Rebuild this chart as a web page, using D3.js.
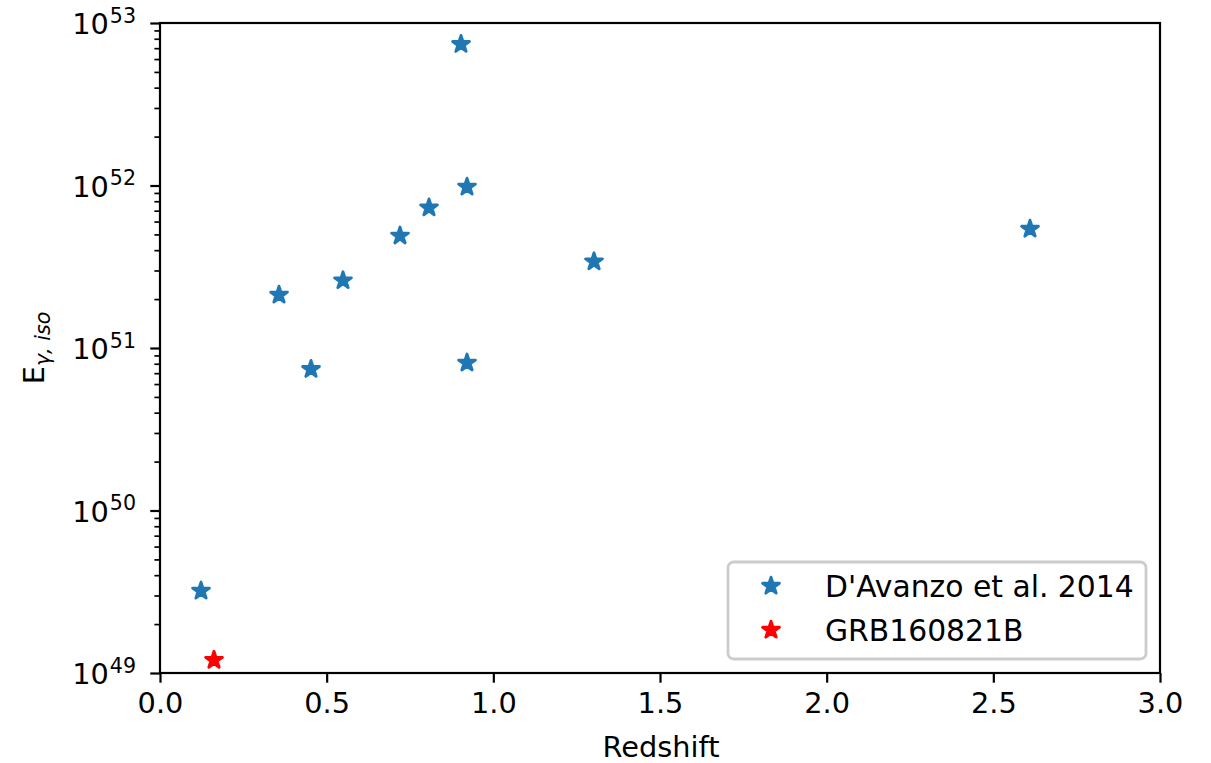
<!DOCTYPE html>
<html><head><meta charset="utf-8">
<script src="https://cdn.jsdelivr.net/npm/d3@7"></script>
<style>
html,body{margin:0;padding:0;background:#fff;}
svg{display:block;font-family:"DejaVu Sans",sans-serif;}
</style></head>
<body><svg id="c" width="1211" height="763"></svg>
<script>
// Data
const davanzoZ = [0.123, 0.357, 0.453, 0.549, 0.720, 0.807, 0.903, 0.921, 0.921, 1.302, 2.610];
const davanzoE = [3.2e49, 2.12e51, 7.4e50, 2.6e51, 4.9e51, 7.3e51, 7.4e52, 9.8e51, 8.1e50, 3.4e51, 5.4e51];
const grbZ = [0.162];
const grbE = [1.2e49];
const xTicks = [0.0, 0.5, 1.0, 1.5, 2.0, 2.5, 3.0];
const yDecades = [49, 50, 51, 52, 53];
const legendLabels = ["D'Avanzo et al. 2014", "GRB160821B"];
const seriesColors = ["#1f77b4", "#ff0000"];

const svg = d3.select("#c");
const L = 160, R = 1160, T = 23, B = 673;
const fs = 28.8, fsSup = 20.6, fsLeg = 29.8;

const x = d3.scaleLinear().domain([0, 3]).range([L, R]);
const y = d3.scaleLog().domain([1e49, 1e53]).range([B, T]);

// Markers
const star = d3.symbol().type(d3.symbolStar).size(88);
function drawSeries(zs, es, color) {
  svg.append("g").selectAll("path").data(zs.map((z, i) => [z, es[i]])).join("path")
    .attr("d", star)
    .attr("transform", d => `translate(${x(d[0])},${y(d[1])})`)
    .attr("fill", color).attr("stroke", color).attr("stroke-width", 2.8)
    .attr("stroke-linejoin", "round");
}
drawSeries(davanzoZ, davanzoE, seriesColors[0]);
drawSeries(grbZ, grbE, seriesColors[1]);

// X axis
const xAxis = d3.axisBottom(x).tickValues(xTicks).tickFormat(d3.format(".1f"))
  .tickSize(9.7).tickPadding(9.5);
const gx = svg.append("g").attr("transform", `translate(0,${B})`).call(xAxis);
gx.select(".domain").remove();
gx.selectAll(".tick line").attr("stroke", "#000").attr("stroke-width", 2.2);
gx.selectAll(".tick text").attr("font-size", fs).attr("fill", "#000")
  .attr("font-family", "DejaVu Sans").attr("dy", "0.71em");

// Y axis ticks
const gy = svg.append("g").attr("transform", `translate(${L},0)`);
const majorVals = yDecades.map(d => Math.pow(10, d));
const minorVals = [];
yDecades.slice(0, -1).forEach(d => { for (let k = 2; k <= 9; k++) minorVals.push(k * Math.pow(10, d)); });
const yAxisMajor = d3.axisLeft(y).tickValues(majorVals).tickSize(9.7).tickFormat("");
const yAxisMinor = d3.axisLeft(y).tickValues(minorVals).tickSize(5.6).tickFormat("");
gy.call(yAxisMinor);
gy.select(".domain").remove();
gy.selectAll(".tick line").attr("stroke", "#000").attr("stroke-width", 1.7);
const gy2 = svg.append("g").attr("transform", `translate(${L},0)`).call(yAxisMajor);
gy2.select(".domain").remove();
gy2.selectAll(".tick line").attr("stroke", "#000").attr("stroke-width", 2.2);

// Y tick labels 10^n
const lab = svg.append("g");
yDecades.forEach((d) => {
  const t = lab.append("text")
    .attr("x", 136).attr("y", y(Math.pow(10, d)) + 11)
    .attr("text-anchor", "end").attr("font-size", fs).attr("fill", "#000");
  t.append("tspan").text("10");
  t.append("tspan").attr("font-size", fsSup).attr("dx", 1).attr("dy", -11.5).text(String(d));
});

// Frame
svg.append("rect").attr("x", L).attr("y", T).attr("width", R - L).attr("height", B - T)
  .attr("fill", "none").attr("stroke", "#000").attr("stroke-width", 2.2);

// Axis labels
svg.append("text").attr("x", (L + R) / 2 + 1).attr("y", 757).attr("text-anchor", "middle")
  .attr("font-size", fs).attr("fill", "#000").text("Redshift");
const yl = svg.append("text").attr("transform", `translate(44,${(T + B) / 2}) rotate(-90)`)
  .attr("text-anchor", "middle").attr("font-size", fs).attr("fill", "#000");
yl.append("tspan").text("E");
yl.append("tspan").attr("font-size", fsSup).attr("font-style", "italic").attr("dy", 6).text("γ, iso");

// Legend
const lg = svg.append("g");
lg.append("rect").attr("x", 728).attr("y", 562).attr("width", 418).attr("height", 97)
  .attr("rx", 5.6).attr("fill", "#fff").attr("fill-opacity", 0.8)
  .attr("stroke", "#cccccc").attr("stroke-width", 2.8);
const legRows = [587, 631];
legendLabels.forEach((name, i) => {
  lg.append("path").attr("d", star).attr("transform", `translate(771,${legRows[i] - 1})`)
    .attr("fill", seriesColors[i]).attr("stroke", seriesColors[i]).attr("stroke-width", 2.8)
    .attr("stroke-linejoin", "round");
  lg.append("text").attr("x", 825).attr("y", legRows[i] + 10).attr("font-size", fsLeg)
    .attr("fill", "#000").text(name);
});
</script></body></html>
